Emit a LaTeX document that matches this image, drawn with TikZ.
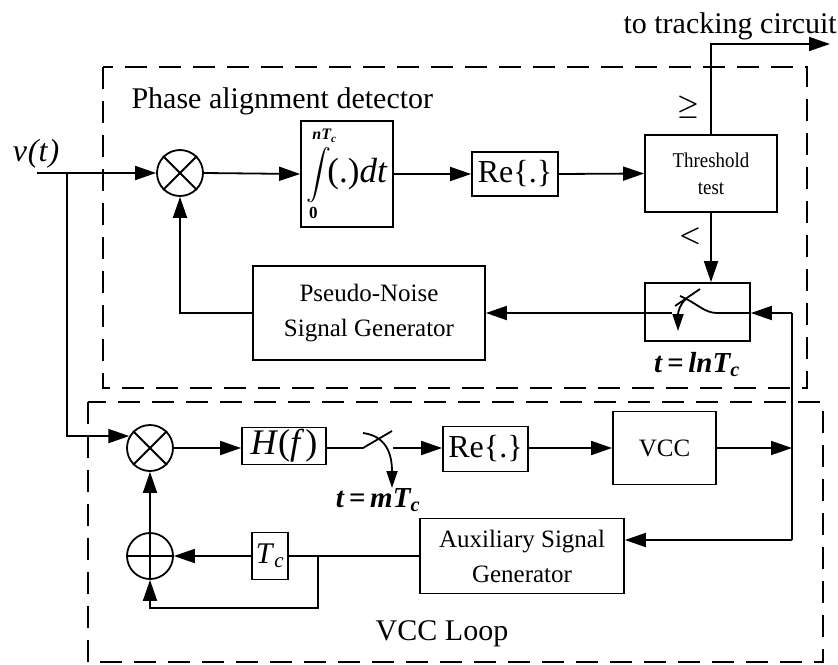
\RequirePackage{fix-cm}
\documentclass[tikz,border=0pt]{standalone}
\usepackage{amsmath}
\usepackage{fontspec}
\setmainfont{Liberation Serif}
\usetikzlibrary{arrows.meta,calc}
\newcommand{\myUpLim}{\raisebox{3pt}{\fontsize{16}{16}\selectfont\bfseries\itshape nT\textsubscript{c}}}
\newcommand{\myLoLim}{\mbox{\fontsize{17}{17}\selectfont\bfseries 0}}
\begin{document}
\begin{tikzpicture}[x=1pt,y=-1pt,
  blk/.style={draw,line width=1.8pt,inner sep=0pt,anchor=center},
  wire/.style={line width=1.8pt},
  arr/.style={wire,-{Triangle[length=21pt,width=14pt]}},
  sarr/.style={wire,-{Triangle[length=17pt,width=11pt]}},
  dbox/.style={line width=2pt,dash pattern=on 22pt off 12pt},
  circ/.style={draw,circle,line width=1.8pt,minimum size=46pt,inner sep=0pt},
  big/.style={font=\fontsize{30}{34}\selectfont},
  mid/.style={font=\fontsize{25}{35}\selectfont},
  tlab/.style={font=\fontsize{29}{29}\selectfont\bfseries\itshape},
]
\useasboundingbox (0,0) rectangle (838,664);

% dashed enclosures
\draw[dbox] (103,67) rectangle (807,388);
\draw[dbox] (88,402) rectangle (823,662);

% upper loop blocks
\node[circ] (m1) at (180,173) {};
\draw[wire] (m1.north west) -- (m1.south east) (m1.north east) -- (m1.south west);
\node[blk,minimum width=92pt,minimum height=106pt,font=\fontsize{30}{32}\selectfont] (int) at (347,174) {$\displaystyle\int\limits_{\myLoLim}^{\myUpLim}$\kern-4pt{\fontsize{35}{36}\selectfont(.)\textit{dt}}};
\node[blk,minimum width=86pt,minimum height=44pt,font=\fontsize{32}{34}\selectfont] (re1) at (515,174) {Re\{.\}};
\node[blk,minimum width=132pt,minimum height=77pt,align=center,font=\fontsize{21}{27}\selectfont] (thr) at (711,173.5) {\scalebox{0.9}[1]{Threshold}\\\scalebox{0.9}[1]{test}};
\node[blk,minimum width=105pt,minimum height=58pt] (sw1) at (697.5,312) {};
\node[blk,minimum width=232pt,minimum height=94pt,align=center,mid] (pn) at (369,313) {Pseudo-Noise\\Signal Generator};

% lower loop blocks
\node[circ] (m2) at (150,448) {};
\draw[wire] (m2.north west) -- (m2.south east) (m2.north east) -- (m2.south west);
\node[blk,minimum width=84pt,minimum height=37pt,font=\fontsize{36}{38}\selectfont] (hf) at (284,446) {\textit{H}(\textit{f}\kern1pt)};
\node[blk,minimum width=85pt,minimum height=45pt,font=\fontsize{32}{34}\selectfont] (re2) at (485.5,449) {Re\{.\}};
\node[blk,minimum width=103pt,minimum height=73pt,mid] (vcc) at (664.5,448) {VCC};
\node[blk,minimum width=204pt,minimum height=75pt,align=center,mid] (aux) at (522,556) {Auxiliary Signal\\Generator};
\node[blk,minimum width=36pt,minimum height=47pt,big] (tc) at (270,556) {\textit{T}\textsubscript{\textit{c}}};
\node[circ] (add) at (150,556) {};
\draw[wire] (add.north) -- (add.south) (add.west) -- (add.east);

% coordinates
\coordinate (in) at (37,173);
\coordinate (br) at (67,173);
\coordinate (out) at (830,44);
\coordinate (sw1in) at (672,313);
\coordinate (jt) at (792,313);
\coordinate (j) at (792,448);
\coordinate (jb) at (792,540);
\coordinate (s2a) at (363,448);
\coordinate (s2b) at (393,448);
\coordinate (b1) at (318,556);
\coordinate (b2) at (318,608);

% upper connectors
\draw[arr] (in) -- (m1.west);
\draw[arr] (m1.east) -- (int.west);
\draw[arr] (int.east) -- (re1.west);
\draw[arr] (re1.east) -- (thr.west);
\draw[arr] (thr.north) |- (out);
\draw[arr] (thr.south) -- (thr.south |- sw1.north);
\draw[arr] (sw1in) -- (pn.east);
\draw[arr] (pn.west) -| (m1.south);
\draw[wire] (jt) -- (jb);
\draw[arr] (jt) -- (sw1.east |- jt);
\draw[arr] (jb) -- (aux.east |- jb);
\draw[arr] (vcc.east) -- (j);

% switch 1 symbol
\draw[wire] (sw1.east |- jt) -- (717,313) .. controls (704,313) and (697,303) .. (680,296);
\draw[wire] (675,306) -- (700,289);
\draw[sarr] (686,299) .. controls (680,304) and (678,312) .. (678,331);

% lower connectors
\draw[arr] (br) |- (m2.150);
\draw[arr] (m2.east) -- (m2.east -| hf.west);
\draw[wire] (hf.east |- s2a) -- (s2a) -- (392,431);
\draw[sarr] (363,433) .. controls (385,436) and (392,452) .. (392,488);
\draw[arr] (s2b) -- (s2b -| re2.west);
\draw[arr] (re2.east |- vcc.west) -- (vcc.west);
\draw[wire] (aux.west) -- (tc.east);
\draw[arr] (tc.west) -- (add.east);
\draw[arr] (b1) -- (b2) -| (add.south);
\draw[arr] (add.north) -- (m2.south);

% labels
\node[font=\fontsize{32}{34}\selectfont\itshape,anchor=base] (vt) at (36,161) {v\kern1pt(t\kern1pt)};
\node[big,anchor=base west] (pad) at (128,108) {Phase alignment detector};
\node[big,anchor=base west] (ttc) at (620,33) {to tracking circuit};
\node[big,anchor=base] (vl) at (442,640) {VCC Loop};
\node[font=\fontsize{25}{25}\selectfont] (ge) at (688,107) {$\boldsymbol{\geq}$};
\node[font=\fontsize{25}{25}\selectfont] (lt) at (690,236) {$\boldsymbol{<}$};
\node[tlab,anchor=base] (tl) at (697,372) {t\,=\,lnT\textsubscript{c}};
\node[tlab,anchor=base] (tm) at (378,507) {t\,=\,mT\textsubscript{c}};
\end{tikzpicture}
\end{document}
